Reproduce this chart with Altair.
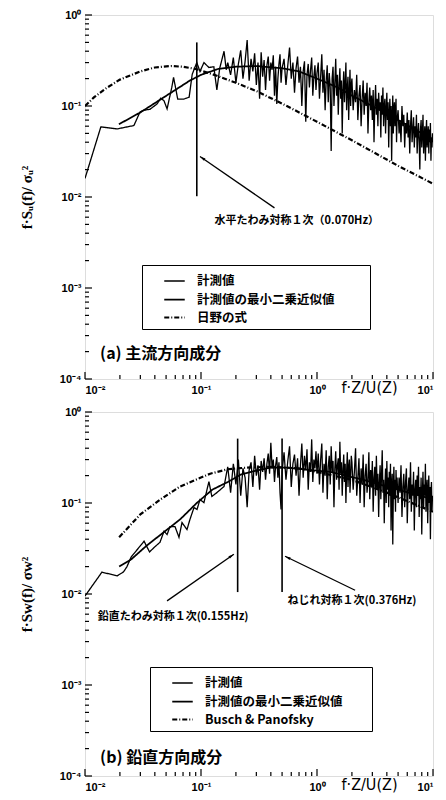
import math
import altair as alt
import pandas as pd

# ---------------- geometry of each panel (plot area) ----------------
W, H = 348, 364
XDOM = [0.01, 10]
YDOM = [0.0001, 1]

# ---------------- shared frequency grid of the dense part ----------------
HI_F = [0.17, 0.18, 0.19, 0.20, 0.21, 0.22, 0.23, 0.24, 0.25, 0.26, 0.27, 0.28, 0.29, 0.30,
        0.31, 0.32, 0.33, 0.34, 0.35, 0.36, 0.37, 0.38, 0.39, 0.40, 0.41, 0.42, 0.43, 0.44,
        0.45, 0.46, 0.47, 0.48, 0.49, 0.50,
        0.52, 0.54, 0.56, 0.58, 0.60, 0.62, 0.64, 0.66, 0.68, 0.70, 0.72, 0.74, 0.76, 0.78,
        0.80, 0.82, 0.84, 0.86, 0.88, 0.90, 0.92, 0.94, 0.96, 0.98, 1.00,
        1.025, 1.05, 1.075, 1.1, 1.125, 1.15, 1.175, 1.2, 1.225, 1.25, 1.275, 1.3, 1.325,
        1.35, 1.375, 1.4, 1.425, 1.45, 1.475, 1.5, 1.525, 1.55, 1.575, 1.6, 1.625, 1.65,
        1.675, 1.7, 1.725, 1.75, 1.775, 1.8, 1.825, 1.85, 1.875, 1.9, 1.925, 1.95, 1.975,
        2.0, 2.05, 2.1, 2.15, 2.2, 2.25, 2.3, 2.35, 2.4, 2.45, 2.5, 2.55, 2.6, 2.65, 2.7,
        2.75, 2.8, 2.85, 2.9, 2.95, 3.0, 3.05, 3.1, 3.15, 3.2, 3.25, 3.3, 3.35, 3.4, 3.45,
        3.5, 3.55, 3.6, 3.65, 3.7, 3.75, 3.8, 3.85, 3.9, 3.95, 4.0, 4.05, 4.1, 4.15, 4.2,
        4.25, 4.3, 4.35, 4.4, 4.45, 4.5, 4.55, 4.6, 4.65, 4.7, 4.75, 4.8, 4.85, 4.9,
        5.0, 5.1, 5.2, 5.3, 5.4, 5.5, 5.6, 5.7, 5.8, 5.9, 6.0, 6.1, 6.2, 6.3, 6.4, 6.5, 6.6,
        6.7, 6.8, 6.9, 7.0, 7.1, 7.2, 7.3, 7.4, 7.5, 7.6, 7.7, 7.8, 7.9, 8.0, 8.1, 8.2, 8.3,
        8.4, 8.5, 8.6, 8.7, 8.8, 8.9, 9.0, 9.1, 9.2, 9.3, 9.4, 9.5, 9.6, 9.7, 9.8, 9.9, 10.0]

# ---------------- panel (a) : 主流方向成分 ----------------
A_LOW_F = [0.01, 0.0137, 0.0189, 0.0264, 0.0298, 0.0323, 0.0363, 0.0417, 0.045, 0.048, 0.051,
           0.056, 0.058, 0.063, 0.071, 0.079, 0.084, 0.092, 0.098, 0.106, 0.117, 0.129, 0.137,
           0.145, 0.158, 0.165]
A_LOW_V = [0.016, 0.059, 0.056, 0.061, 0.086, 0.09, 0.092, 0.105, 0.122, 0.114, 0.093,
           0.16, 0.207, 0.119, 0.119, 0.125, 0.223, 0.30, 0.24, 0.30, 0.265, 0.27, 0.15,
           0.26, 0.40, 0.25]
A_HI_V = [0.30, 0.22, 0.34, 0.18, 0.29, 0.41, 0.20, 0.31, 0.53, 0.19, 0.33, 0.24, 0.38, 0.17,
          0.30, 0.12, 0.39, 0.21, 0.32, 0.15, 0.28, 0.35, 0.19, 0.30, 0.25, 0.36, 0.13, 0.27,
          0.105, 0.20, 0.29, 0.37, 0.18, 0.26,
          0.33, 0.17, 0.28, 0.44, 0.20, 0.30, 0.14, 0.26, 0.35, 0.18, 0.27, 0.10, 0.24, 0.31,
          0.067, 0.22, 0.29, 0.16, 0.25, 0.34, 0.13, 0.21, 0.28, 0.15, 0.23,
          0.30, 0.12, 0.21, 0.37, 0.14, 0.25, 0.09, 0.19, 0.28, 0.11, 0.23, 0.16, 0.032, 0.20,
          0.27, 0.10, 0.18, 0.33, 0.13, 0.22, 0.08, 0.17, 0.26, 0.12, 0.19, 0.05, 0.15, 0.24,
          0.11, 0.18, 0.30, 0.09, 0.16, 0.21, 0.07, 0.14, 0.25, 0.10, 0.17,
          0.20, 0.09, 0.15, 0.11, 0.22, 0.07, 0.13, 0.17, 0.06, 0.12, 0.19, 0.08, 0.14, 0.10,
          0.18, 0.05, 0.11, 0.16, 0.09, 0.13, 0.07, 0.15, 0.04, 0.10, 0.17, 0.08, 0.12, 0.06,
          0.14, 0.09, 0.11, 0.045, 0.13, 0.08, 0.16, 0.06, 0.10, 0.12, 0.05, 0.09, 0.14, 0.07,
          0.11, 0.035, 0.08, 0.12, 0.06, 0.10, 0.025, 0.07, 0.13, 0.05, 0.09, 0.11, 0.06, 0.08,
          0.12, 0.04, 0.07,
          0.09, 0.05, 0.07, 0.04, 0.10, 0.06, 0.08, 0.035, 0.065, 0.05, 0.085, 0.045, 0.07,
          0.03, 0.06, 0.09, 0.04, 0.055, 0.075, 0.035, 0.06, 0.045, 0.08, 0.03, 0.05, 0.065,
          0.04, 0.02, 0.055, 0.07, 0.035, 0.05, 0.08, 0.03, 0.045, 0.06, 0.025, 0.05, 0.07,
          0.035, 0.045, 0.06, 0.03, 0.055, 0.04, 0.065, 0.025, 0.045, 0.035, 0.05, 0.04]
A_FIT_F = [0.0196, 0.03, 0.042, 0.06, 0.08, 0.1, 0.14, 0.2, 0.3, 0.5, 0.7, 1.0, 1.5, 2.0,
           3.0, 5.0, 7.0, 10.0]
A_FIT_V = [0.063, 0.085, 0.112, 0.15, 0.19, 0.22, 0.255, 0.27, 0.275, 0.26, 0.24, 0.20,
           0.16, 0.13, 0.10, 0.07, 0.055, 0.043]
A_REF_F = [0.01, 0.012, 0.015, 0.02, 0.03, 0.04, 0.055, 0.07, 0.09, 0.13, 0.2, 0.3, 0.55,
           1.0, 2.0, 5.0, 10.0]
A_REF_V = [0.10, 0.125, 0.155, 0.195, 0.24, 0.265, 0.275, 0.27, 0.255, 0.22, 0.18, 0.146,
           0.10, 0.067, 0.042, 0.022, 0.014]
A_SERIES = ["計測値", "計測値の最小二乗近似値", "日野の式"]
A_MODE_F = [0.092]
A_MODE_LO = [0.0102]
A_MODE_HI = [0.50]
A_ARROW_TAIL_F = [0.43]
A_ARROW_TAIL_V = [0.0076]
A_ARROW_HEAD_F = [0.098]
A_ARROW_HEAD_V = [0.0279]
A_NOTE_TEXT = ["水平たわみ対称１次（0.070Hz）"]
A_NOTE_F = [0.67]
A_NOTE_V = [0.0055]
A_PANEL_TEXT = ["(a)  主流方向成分"]
A_PANEL_F = [0.0135]
A_PANEL_V = [0.00019]
A_YTITLE = "f·Sᵤ(f)/ σᵤ²"

# ---------------- panel (b) : 鉛直方向成分 ----------------
B_LOW_F = [0.01, 0.014, 0.0189, 0.0215, 0.023, 0.025, 0.0323, 0.036, 0.040, 0.0443, 0.048,
           0.051, 0.054, 0.0597, 0.0646, 0.0686, 0.0757, 0.0803, 0.087, 0.0924, 0.098, 0.106,
           0.117, 0.124, 0.137, 0.158]
B_LOW_V = [0.0095, 0.0174, 0.0158, 0.0175, 0.020, 0.0255, 0.038, 0.029, 0.033, 0.037, 0.049,
           0.045, 0.055, 0.055, 0.042, 0.061, 0.051, 0.066, 0.089, 0.085, 0.109, 0.101,
           0.172, 0.118, 0.13, 0.152]
B_HI_V = [0.25, 0.13, 0.27, 0.16, 0.30, 0.12, 0.24, 0.19, 0.09, 0.23, 0.28, 0.15, 0.33, 0.20,
          0.26, 0.14, 0.29, 0.22, 0.31, 0.18, 0.27, 0.35, 0.21, 0.46, 0.24, 0.30, 0.17, 0.26,
          0.32, 0.19, 0.28, 0.13, 0.085, 0.22,
          0.36, 0.18, 0.29, 0.42, 0.15, 0.27, 0.34, 0.20, 0.31, 0.12, 0.26, 0.45, 0.19, 0.33,
          0.23, 0.39, 0.14, 0.28, 0.22, 0.50, 0.17, 0.30, 0.24, 0.37, 0.21,
          0.35, 0.16, 0.30, 0.45, 0.13, 0.27, 0.20, 0.38, 0.11, 0.25, 0.33, 0.16, 0.42, 0.22,
          0.29, 0.09, 0.24, 0.37, 0.18, 0.26, 0.31, 0.14, 0.47, 0.21, 0.28, 0.12, 0.23, 0.34,
          0.17, 0.27, 0.10, 0.22, 0.36, 0.15, 0.25, 0.30, 0.13, 0.20, 0.33,
          0.28, 0.14, 0.22, 0.40, 0.12, 0.19, 0.31, 0.10, 0.24, 0.16, 0.34, 0.09, 0.20, 0.27,
          0.13, 0.18, 0.36, 0.11, 0.23, 0.15, 0.29, 0.08, 0.19, 0.25, 0.12, 0.33, 0.14, 0.21,
          0.07, 0.17, 0.26, 0.11, 0.20, 0.38, 0.13, 0.18, 0.06, 0.15, 0.24, 0.10, 0.29, 0.14,
          0.19, 0.09, 0.22, 0.12, 0.27, 0.05, 0.16, 0.21, 0.035, 0.13, 0.25, 0.11, 0.18, 0.08,
          0.23, 0.14, 0.19,
          0.10, 0.19, 0.13, 0.26, 0.07, 0.15, 0.21, 0.09, 0.17, 0.24, 0.06, 0.14, 0.19, 0.11,
          0.28, 0.08, 0.16, 0.12, 0.22, 0.05, 0.14, 0.18, 0.09, 0.20, 0.12, 0.25, 0.07, 0.15,
          0.11, 0.19, 0.045, 0.13, 0.22, 0.09, 0.16, 0.12, 0.27, 0.08, 0.14, 0.18, 0.06, 0.12,
          0.20, 0.10, 0.15, 0.04, 0.13, 0.17, 0.08, 0.12, 0.11]
B_FIT_F = [0.0197, 0.025, 0.034, 0.048, 0.066, 0.092, 0.125, 0.17, 0.22, 0.3, 0.4, 0.55,
           0.75, 1.3, 2.5, 5.0, 10.0]
B_FIT_V = [0.020, 0.024, 0.034, 0.048, 0.066, 0.10, 0.14, 0.17, 0.205, 0.227, 0.245, 0.245,
           0.235, 0.22, 0.18, 0.14, 0.11]
B_REF_F = [0.0197, 0.03, 0.045, 0.065, 0.09, 0.12, 0.17, 0.25, 0.4, 0.7, 1.0, 2.0, 4.0, 10.0]
B_REF_V = [0.042, 0.075, 0.11, 0.15, 0.18, 0.21, 0.235, 0.245, 0.25, 0.24, 0.22, 0.18, 0.13,
           0.08]
B_SERIES = ["計測値", "計測値の最小二乗近似値", "Busch & Panofsky"]
B_MODE_F = [0.207, 0.50]
B_MODE_LO = [0.0105, 0.0105]
B_MODE_HI = [0.51, 0.51]
B_ARROW_TAIL_F = [0.051, 2.13]
B_ARROW_TAIL_V = [0.0084, 0.011]
B_ARROW_HEAD_F = [0.192, 0.53]
B_ARROW_HEAD_V = [0.0274, 0.026]
B_NOTE_TEXT = ["鉛直たわみ対称１次(0.155Hz)", "ねじれ対称１次(0.376Hz)"]
B_NOTE_F = [0.0574, 2.0]
B_NOTE_V = [0.0056, 0.0084]
B_PANEL_TEXT = ["(b)  鉛直方向成分"]
B_PANEL_F = [0.0135]
B_PANEL_V = [0.000158]
B_YTITLE = "f·Sw(f)/ σw²"

# ---------------- tick positions ----------------
XT_MAJ = [0.01, 0.1, 1, 10]
XT_MIN = [0.02, 0.03, 0.04, 0.05, 0.06, 0.07, 0.08, 0.09,
          0.2, 0.3, 0.4, 0.5, 0.6, 0.7, 0.8, 0.9,
          2, 3, 4, 5, 6, 7, 8, 9]
YT_MAJ = [0.0001, 0.001, 0.01, 0.1, 1]
YT_MIN = [0.0002, 0.0003, 0.0004, 0.0005, 0.0006, 0.0007, 0.0008, 0.0009,
          0.002, 0.003, 0.004, 0.005, 0.006, 0.007, 0.008, 0.009,
          0.02, 0.03, 0.04, 0.05, 0.06, 0.07, 0.08, 0.09,
          0.2, 0.3, 0.4, 0.5, 0.6, 0.7, 0.8, 0.9]

assert len(HI_F) == len(A_HI_V) == len(B_HI_V), (len(HI_F), len(A_HI_V), len(B_HI_V))

CJK = "Noto Sans CJK JP"
LABEL_FONT = "Liberation Sans"

XS = alt.Scale(type="log", domain=XDOM, nice=False)
YS = alt.Scale(type="log", domain=YDOM, nice=False)

X_LABELS = ("datum.value > 5 ? '10¹' : datum.value > 0.5 ? '10⁰' : "
            "datum.value > 0.05 ? '10⁻¹' : '10⁻²'")
Y_LABELS = ("datum.value > 0.5 ? '10⁰' : datum.value > 0.05 ? '10⁻¹' : "
            "datum.value > 0.005 ? '10⁻²' : datum.value > 0.0005 ? '10⁻³' : '10⁻⁴'")


def px_of(f):
    return W * (math.log10(f) - math.log10(XDOM[0])) / (math.log10(XDOM[1]) - math.log10(XDOM[0]))


def py_of(v):
    return H * (math.log10(YDOM[1]) - math.log10(v)) / (math.log10(YDOM[1]) - math.log10(YDOM[0]))


def panel(series, low_f, low_v, hi_v, fit_f, fit_v, ref_f, ref_v,
          mode_f, mode_lo, mode_hi, at_f, at_v, ah_f, ah_v,
          note_text, note_f, note_v, panel_text, panel_f, panel_v,
          ytitle, legend_x, legend_y, legend_gap):
    xax = alt.Axis(values=XT_MAJ, labelExpr=X_LABELS, ticks=False, domain=False, grid=False,
                   labelFlush=True, labelPadding=5, labelFont=LABEL_FONT,
                   labelFontWeight="bold", labelFontSize=11, labelColor="black",
                   title="f·Z/U(Z)", titleX=284, titleY=13, titleAlign="center",
                   titleBaseline="alphabetic", titleFont="DejaVu Sans Condensed",
                   titleFontSize=16, titleFontWeight="normal", titleColor="black")
    yax = alt.Axis(values=YT_MAJ, labelExpr=Y_LABELS, ticks=False, domain=False, grid=False,
                   labelPadding=4, labelFont=LABEL_FONT, labelFontWeight="bold",
                   labelFontSize=11, labelColor="black",
                   title=ytitle, titleX=-59, titleY=H / 2, titleAngle=270,
                   titleAlign="center", titleBaseline="middle", titleFont="Liberation Serif",
                   titleFontSize=15, titleFontWeight="bold", titleColor="black")

    rows = []
    for f, v in zip(low_f + HI_F, low_v + hi_v):
        rows.append({"f": f, "v": v, "series": series[0]})
    for f, v in zip(fit_f, fit_v):
        rows.append({"f": f, "v": v, "series": series[1]})
    for f, v in zip(ref_f, ref_v):
        rows.append({"f": f, "v": v, "series": series[2]})
    df = pd.DataFrame(rows)

    leg = alt.Legend(title="\u3000", titleOrient="right", titlePadding=legend_gap,
                     titleFontSize=1, orient="none", legendX=legend_x, legendY=legend_y,
                     direction="vertical", strokeColor="black", fillColor="white",
                     padding=5, symbolType="stroke", symbolSize=420, symbolOffset=16,
                     labelFont=CJK, labelFontWeight="bold", labelFontSize=12.5,
                     labelColor="black", labelOffset=11, rowPadding=-5)
    lines = alt.Chart(df).mark_line(clip=True).encode(
        x=alt.X("f:Q", scale=XS, axis=xax),
        y=alt.Y("v:Q", scale=YS, axis=yax),
        color=alt.Color("series:N", scale=alt.Scale(domain=series, range=["black"] * 3),
                        legend=leg),
        strokeDash=alt.StrokeDash("series:N",
                                  scale=alt.Scale(domain=series,
                                                  range=[[1, 0], [1, 0], [5, 2, 1, 2]]),
                                  legend=leg),
        strokeWidth=alt.StrokeWidth("series:N",
                                    scale=alt.Scale(domain=series, range=[1.3, 2.2, 1.1]),
                                    legend=leg),
        detail="series:N",
    )

    modes = alt.Chart(pd.DataFrame({"f": mode_f, "lo": mode_lo, "hi": mode_hi})).mark_rule(
        color="black", strokeWidth=1.6).encode(
        x=alt.X("f:Q", scale=XS, axis=xax),
        y=alt.Y("lo:Q", scale=YS, axis=yax), y2="hi:Q")

    angles = []
    for tf, tv, hf, hv in zip(at_f, at_v, ah_f, ah_v):
        dx = px_of(hf) - px_of(tf)
        dy = py_of(hv) - py_of(tv)
        angles.append(math.degrees(math.atan2(dx, -dy)) % 360)
    adf = pd.DataFrame({"tf": at_f, "tv": at_v, "hf": ah_f, "hv": ah_v, "ang": angles})
    arrows = alt.Chart(adf).mark_rule(color="black", strokeWidth=1.3).encode(
        x=alt.X("tf:Q", scale=XS, axis=xax), y=alt.Y("tv:Q", scale=YS, axis=yax),
        x2="hf:Q", y2="hv:Q")
    heads = alt.Chart(adf).mark_point(shape="M0,0 L0.45,1.8 L-0.45,1.8 Z", filled=True,
                                      color="black", opacity=1, size=40).encode(
        x=alt.X("hf:Q", scale=XS, axis=xax), y=alt.Y("hv:Q", scale=YS, axis=yax),
        angle=alt.Angle("ang:Q", scale=None))

    notes = alt.Chart(pd.DataFrame({"t": note_text, "f": note_f, "v": note_v})).mark_text(
        font=CJK, fontWeight="bold", fontSize=11, color="black", align="center",
        baseline="middle").encode(
        x=alt.X("f:Q", scale=XS, axis=xax), y=alt.Y("v:Q", scale=YS, axis=yax), text="t:N")

    plabel = alt.Chart(pd.DataFrame({"t": panel_text, "f": panel_f, "v": panel_v})).mark_text(
        font=CJK, fontWeight="bold", fontSize=16, color="black", align="left",
        baseline="middle").encode(
        x=alt.X("f:Q", scale=XS, axis=xax), y=alt.Y("v:Q", scale=YS, axis=yax), text="t:N")

    xmaj = alt.Chart(pd.DataFrame({"t": XT_MAJ})).mark_rule(color="black", strokeWidth=1.2).encode(
        x=alt.X("t:Q", scale=XS, axis=xax), y=alt.value(H), y2=alt.value(H - 7))
    xmin = alt.Chart(pd.DataFrame({"t": XT_MIN})).mark_rule(color="black", strokeWidth=1.2).encode(
        x=alt.X("t:Q", scale=XS, axis=xax), y=alt.value(H), y2=alt.value(H - 4))
    ymaj = alt.Chart(pd.DataFrame({"t": YT_MAJ})).mark_rule(color="black", strokeWidth=1.2).encode(
        y=alt.Y("t:Q", scale=YS, axis=yax), x=alt.value(0), x2=alt.value(7))
    ymin = alt.Chart(pd.DataFrame({"t": YT_MIN})).mark_rule(color="black", strokeWidth=1.2).encode(
        y=alt.Y("t:Q", scale=YS, axis=yax), x=alt.value(0), x2=alt.value(4))

    return alt.layer(lines, modes, arrows, heads, notes, plabel, xmaj, xmin, ymaj, ymin).properties(
        width=W, height=H)


top = panel(A_SERIES, A_LOW_F, A_LOW_V, A_HI_V, A_FIT_F, A_FIT_V, A_REF_F, A_REF_V,
            A_MODE_F, A_MODE_LO, A_MODE_HI, A_ARROW_TAIL_F, A_ARROW_TAIL_V,
            A_ARROW_HEAD_F, A_ARROW_HEAD_V, A_NOTE_TEXT, A_NOTE_F, A_NOTE_V,
            A_PANEL_TEXT, A_PANEL_F, A_PANEL_V, A_YTITLE, 57, 250, 30)
bottom = panel(B_SERIES, B_LOW_F, B_LOW_V, B_HI_V, B_FIT_F, B_FIT_V, B_REF_F, B_REF_V,
               B_MODE_F, B_MODE_LO, B_MODE_HI, B_ARROW_TAIL_F, B_ARROW_TAIL_V,
               B_ARROW_HEAD_F, B_ARROW_HEAD_V, B_NOTE_TEXT, B_NOTE_F, B_NOTE_V,
               B_PANEL_TEXT, B_PANEL_F, B_PANEL_V, B_YTITLE, 65, 255, 24)

chart = alt.vconcat(top, bottom, spacing=9).resolve_scale(
    color="independent", strokeDash="independent", strokeWidth="independent"
).resolve_legend(color="independent", strokeDash="independent", strokeWidth="independent"
).properties(padding={"left": 10, "top": 0, "right": 0, "bottom": 0}).configure_view(
    stroke="black", strokeWidth=1.5).configure(background="white")

chart.save("out.html", embed_options={"renderer": "svg", "actions": False})
